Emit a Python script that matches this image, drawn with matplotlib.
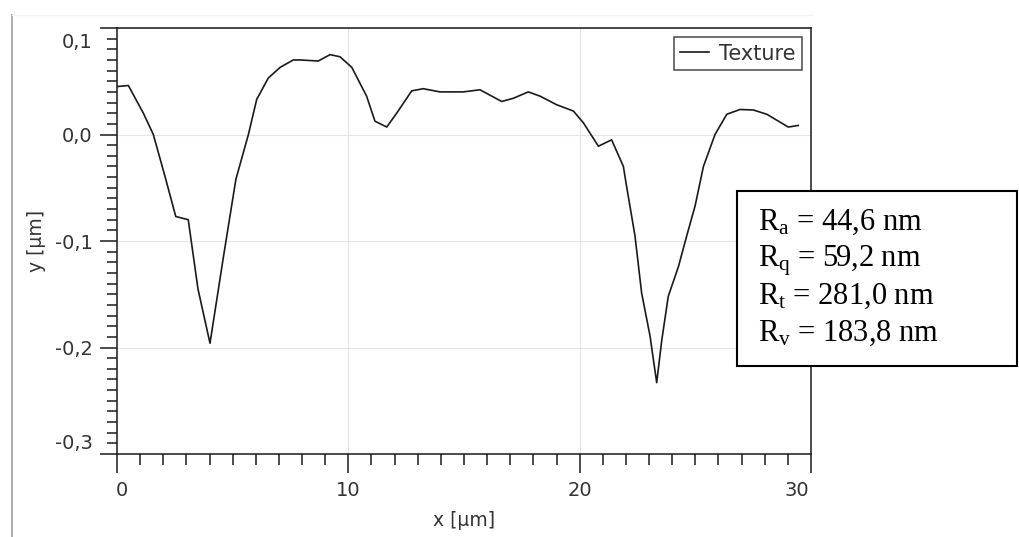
import numpy as np
import matplotlib.pyplot as plt
import matplotlib.transforms as mtransforms
from matplotlib.patches import Rectangle
from matplotlib.lines import Line2D

plt.rcParams['font.family'] = ['DejaVu Sans']
plt.rcParams['mathtext.fontset'] = 'custom'
plt.rcParams['mathtext.rm'] = 'Liberation Serif'
plt.rcParams['mathtext.it'] = 'Liberation Serif:italic'

# ----------------------------------------------------------------------------
# surface profile (x in um, height in um)
x_um = [0.0, 0.49, 1.14, 1.57, 2.07, 2.54, 3.08, 3.5, 4.02, 4.6, 5.14, 5.68,
        6.04, 6.54, 7.05, 7.62, 7.91, 8.70, 9.21, 9.64, 10.15, 10.79, 11.15,
        11.66, 12.09, 12.74, 13.24, 13.96, 14.97, 15.69, 16.63, 17.13, 17.78,
        18.29, 19.0, 19.73, 20.16, 20.81, 21.38, 21.89, 22.0, 22.39, 22.68,
        23.04, 23.33, 23.55, 23.83, 24.27, 24.63, 24.99, 25.35, 25.85, 26.36,
        26.93, 27.51, 28.09, 29.02, 29.45]
y_um = [0.045, 0.046, 0.020, 0.0, -0.039, -0.077, -0.080, -0.145, -0.196,
        -0.115, -0.042, 0.0, 0.033, 0.053, 0.063, 0.070, 0.070, 0.069, 0.075,
        0.073, 0.063, 0.036, 0.0125, 0.007, 0.020, 0.041, 0.043, 0.040, 0.040,
        0.042, 0.031, 0.034, 0.040, 0.036, 0.028, 0.022, 0.011, -0.011,
        -0.005, -0.030, -0.045, -0.095, -0.149, -0.189, -0.233, -0.193,
        -0.152, -0.124, -0.095, -0.067, -0.030, 0.0, 0.019, 0.0235, 0.023,
        0.019, 0.007, 0.0085]

x_ticks = [0, 10, 20, 30]
x_ticklabels = ['0', '10', '20', '30']
y_ticks = [-0.3, -0.2, -0.1, 0.0, 0.1]
y_ticklabels = ['-0,3', '-0,2', '-0,1', '0,0', '0,1']

roughness = [('a', '44,6'), ('q', '59,2'), ('t', '281,0'), ('v', '183,8')]
# ----------------------------------------------------------------------------

W, H = 1019, 537
fig = plt.figure(figsize=(W / 100, H / 100), dpi=100)
ax = fig.add_axes([117 / W, 1 - 454 / H, (811 - 117) / W, (454 - 28) / H])

ax.plot(x_um, y_um, color='#1a1a1a', lw=1.2, label='Texture', zorder=3)

ax.set_xlim(0, 30)
ax.set_ylim(-0.3, 0.1)
ax.set_xticks(x_ticks)
ax.set_xticklabels(x_ticklabels)
ax.set_yticks(y_ticks)
ax.set_yticklabels(y_ticklabels)
ax.set_xticks(np.arange(0, 31, 1), minor=True)
ax.set_yticks(np.arange(-0.3, 0.1001, 0.01), minor=True)

ax.tick_params(axis='both', which='both', direction='out', width=1.1,
               color='#1a1a1a', labelcolor='#333333', labelsize=14)
ax.tick_params(axis='y', which='major', length=12.5, pad=5)
ax.tick_params(axis='y', which='minor', length=7.5)
ax.tick_params(axis='x', which='major', length=13.5, pad=6)
ax.tick_params(axis='x', which='minor', length=8)

for s in ax.spines.values():
    s.set_linewidth(1.1)
    s.set_color('#1a1a1a')

ax.grid(True, which='major', color='#e4e4e4', lw=0.8, zorder=0)
ax.set_axisbelow(True)

# edge tick labels pulled inside the frame
def shift(lbl, dx, dy):
    off = mtransforms.ScaledTranslation(dx / 100, dy / 100, fig.dpi_scale_trans)
    lbl.set_transform(lbl.get_transform() + off)

ylbls = ax.get_yticklabels()
shift(ylbls[0], 0, 12)
shift(ylbls[-1], 0, -12)
xlbls = ax.get_xticklabels()
shift(xlbls[0], 5, 0)
shift(xlbls[-1], -14, 0)

ax.set_xlabel('x [µm]', fontsize=13.5, color='#333333', labelpad=8)
ax.set_ylabel('y [µm]', fontsize=13.5, color='#333333', labelpad=6)

leg = ax.legend(loc='upper right', fontsize=15, frameon=True, fancybox=False,
                handlelength=1.4, handletextpad=0.45, borderpad=0.3,
                borderaxespad=0.45)
leg.get_frame().set_edgecolor('#1a1a1a')
leg.get_frame().set_linewidth(1.1)
for t in leg.get_texts():
    t.set_color('#333333')

# widget frame line on the left
fig.add_artist(Line2D([12 / W, 12 / W], [0, 1 - 15 / H], transform=fig.transFigure,
                      color='#a0a0a0', lw=1.2))
fig.add_artist(Line2D([12 / W, 812 / W], [1 - 15 / H, 1 - 15 / H],
                      transform=fig.transFigure, color='#f2f2f2', lw=1.0))

# roughness parameter box
fig.add_artist(Rectangle((737 / W, 1 - 366 / H), (1017 - 737) / W, (366 - 191) / H,
                         transform=fig.transFigure, facecolor='white',
                         edgecolor='black', lw=1.5, zorder=10))
for i, (sub, val) in enumerate(roughness):
    fig.text(758 / W, 1 - (230 + 37 * i) / H, r'R$_{\mathrm{%s}}$ = %s nm' % (sub, val),
             family='Liberation Serif', fontsize=22, va='baseline', ha='left',
             color='black', zorder=11)

fig.savefig('out.png', dpi=100)
